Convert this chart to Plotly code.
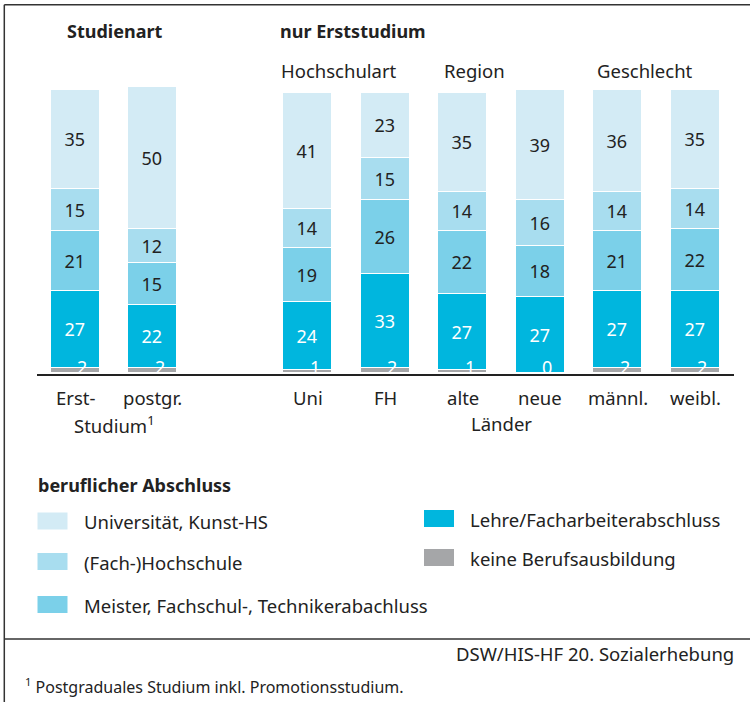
import plotly.graph_objects as go

# ---------------- data ----------------
categories = ["Erst-", "postgr.", "Uni", "FH", "alte", "neue", "männl.", "weibl."]
groups = ["Studienart", "Studienart", "Hochschulart", "Hochschulart",
          "Region", "Region", "Geschlecht", "Geschlecht"]
series_names = ["Universität, Kunst-HS", "(Fach-)Hochschule",
                "Meister, Fachschul-, Technikerabachluss",
                "Lehre/Facharbeiterabschluss", "keine Berufsausbildung"]
uni_kunst = [35, 50, 41, 23, 35, 39, 36, 35]
fach_hs = [15, 12, 14, 15, 14, 16, 14, 14]
meister = [21, 15, 19, 26, 22, 18, 21, 22]
lehre = [27, 22, 24, 33, 27, 27, 27, 27]
keine = [2, 2, 1, 2, 1, 0, 2, 2]

# ---------------- styling ----------------
W, H = 750, 702
FONT = "Noto Sans"
TXT = "#222222"
FS = 18.5
colors = ["#d3ebf5", "#a8ddef", "#7bd0e9", "#00b6de", "#a5a6a8"]
text_colors = [TXT, TXT, TXT, "#ffffff", "#ffffff"]

# one empty slot between "Studienart" and the remaining groups
pos = [i + (1 if g != "Studienart" else 0) for i, g in enumerate(groups)]

def px(x):
    return x / W

def py(y):
    return 1 - y / H

fig = go.Figure()
stack = [(keine, 4), (lehre, 3), (meister, 2), (fach_hs, 1), (uni_kunst, 0)]
for vals, k in stack:
    if k == 4:
        fig.add_trace(go.Bar(
            x=pos, y=vals, name=series_names[k], width=0.645,
            marker=dict(color=colors[k], line=dict(color="white", width=1.5)),
            textposition="none", showlegend=False, hoverinfo="skip"))
    else:
        fig.add_trace(go.Bar(
            x=pos, y=vals, name=series_names[k], width=0.645,
            marker=dict(color=colors[k], line=dict(color="white", width=1.5)),
            text=vals, texttemplate="%{y}",
            textposition="inside", insidetextanchor="middle", textangle=0,
            textfont=dict(family=FONT, size=18, color=text_colors[k]),
            showlegend=False, hoverinfo="skip"))

ann = []
# values of the grey segment
for p, v in zip(pos, keine):
    ann.append(dict(x=p + 0.09, y=2.2, xref="x", yref="y", text=str(v),
                    showarrow=False, yanchor="middle",
                    font=dict(family=FONT, size=18, color="white")))
# category labels
for p, c in zip(pos, categories):
    ann.append(dict(x=p, y=py(397), xref="x", yref="paper", text=c,
                    showarrow=False, yanchor="middle",
                    font=dict(family=FONT, size=FS, color=TXT)))
ann.append(dict(x=(pos[0] + pos[1]) / 2, y=py(424), xref="x", yref="paper",
                text="Studium<sup>1</sup>", showarrow=False, yanchor="middle",
                font=dict(family=FONT, size=FS, color=TXT)))
ann.append(dict(x=(pos[4] + pos[5]) / 2, y=py(423), xref="x", yref="paper",
                text="Länder", showarrow=False, yanchor="middle",
                font=dict(family=FONT, size=FS, color=TXT)))
# headers
ann.append(dict(x=px(115), y=py(31), xref="paper", yref="paper",
                text="<b>Studienart</b>", showarrow=False, xanchor="center",
                yanchor="middle", font=dict(family=FONT, size=18, color=TXT)))
ann.append(dict(x=px(278), y=py(31), xref="paper", yref="paper",
                text="<b>nur Erststudium</b>", showarrow=False, xanchor="left",
                yanchor="middle", font=dict(family=FONT, size=18, color=TXT)))
for label, cx in [("Hochschulart", 338.5), ("Region", 474.5), ("Geschlecht", 645)]:
    ann.append(dict(x=px(cx), y=py(70), xref="paper", yref="paper",
                    text=label, showarrow=False, xanchor="center",
                    yanchor="middle", font=dict(family=FONT, size=FS, color=TXT)))

# legend (drawn)
ann.append(dict(x=px(36), y=py(485), xref="paper", yref="paper",
                text="<b>beruflicher Abschluss</b>", showarrow=False,
                xanchor="left", yanchor="middle",
                font=dict(family=FONT, size=18, color=TXT)))
legend_pos = [(37.5, 521), (37.5, 561.5), (37.5, 604.5), (424, 518.5), (424, 557.5)]
shapes = []
for k, (lx, ly) in enumerate(legend_pos):
    shapes.append(dict(type="rect", xref="paper", yref="paper",
                       x0=px(lx), x1=px(lx + 30), y0=py(ly - 8.5), y1=py(ly + 8.5),
                       fillcolor=colors[k], line=dict(width=0)))
    ann.append(dict(x=px(lx + 44), y=py(ly + 0.5), xref="paper", yref="paper",
                    text=series_names[k], showarrow=False, xanchor="left",
                    yanchor="middle", font=dict(family=FONT, size=FS, color=TXT)))

# source and footnote
ann.append(dict(x=px(736), y=py(653), xref="paper", yref="paper",
                text="DSW/HIS-HF 20. Sozialerhebung", showarrow=False,
                xanchor="right", yanchor="middle",
                font=dict(family=FONT, size=FS, color=TXT)))
ann.append(dict(x=px(23), y=py(686), xref="paper", yref="paper",
                text="<sup>1</sup> Postgraduales Studium inkl. Promotionsstudium.",
                showarrow=False, xanchor="left", yanchor="middle",
                font=dict(family=FONT, size=16, color=TXT)))

# frame lines
LC = "#333333"
shapes += [
    dict(type="line", xref="paper", yref="paper", x0=px(4.3), x1=1,
         y0=py(4.7), y1=py(4.7), line=dict(color=LC, width=1.5)),
    dict(type="line", xref="paper", yref="paper", x0=px(4.3), x1=px(4.3),
         y0=py(4.7), y1=0, line=dict(color=LC, width=1.5)),
    dict(type="line", xref="paper", yref="paper", x0=px(4.3), x1=1,
         y0=py(639), y1=py(639), line=dict(color=LC, width=1.5)),
]

fig.update_layout(
    width=W, height=H, margin=dict(l=0, r=0, t=0, b=0),
    paper_bgcolor="white", plot_bgcolor="white",
    barmode="stack", bargap=0,
    font=dict(family=FONT, size=18, color=TXT),
    xaxis=dict(domain=[px(36.5), px(734)], range=[-0.5, 8.5],
               showline=True, linecolor="#222222", linewidth=1.5,
               showticklabels=False, showgrid=False, zeroline=False, ticks=""),
    yaxis=dict(domain=[py(373.5), py(84.3)], range=[0, 102], visible=False,
               fixedrange=True),
    annotations=ann, shapes=shapes,
    uniformtext=dict(minsize=18, mode="show"),
)

fig.write_html(
    "out.html",
    config={"displayModeBar": False},
    post_script="document.body.style.margin='0';document.body.style.padding='0';"
                "document.body.style.overflow='hidden';",
)
